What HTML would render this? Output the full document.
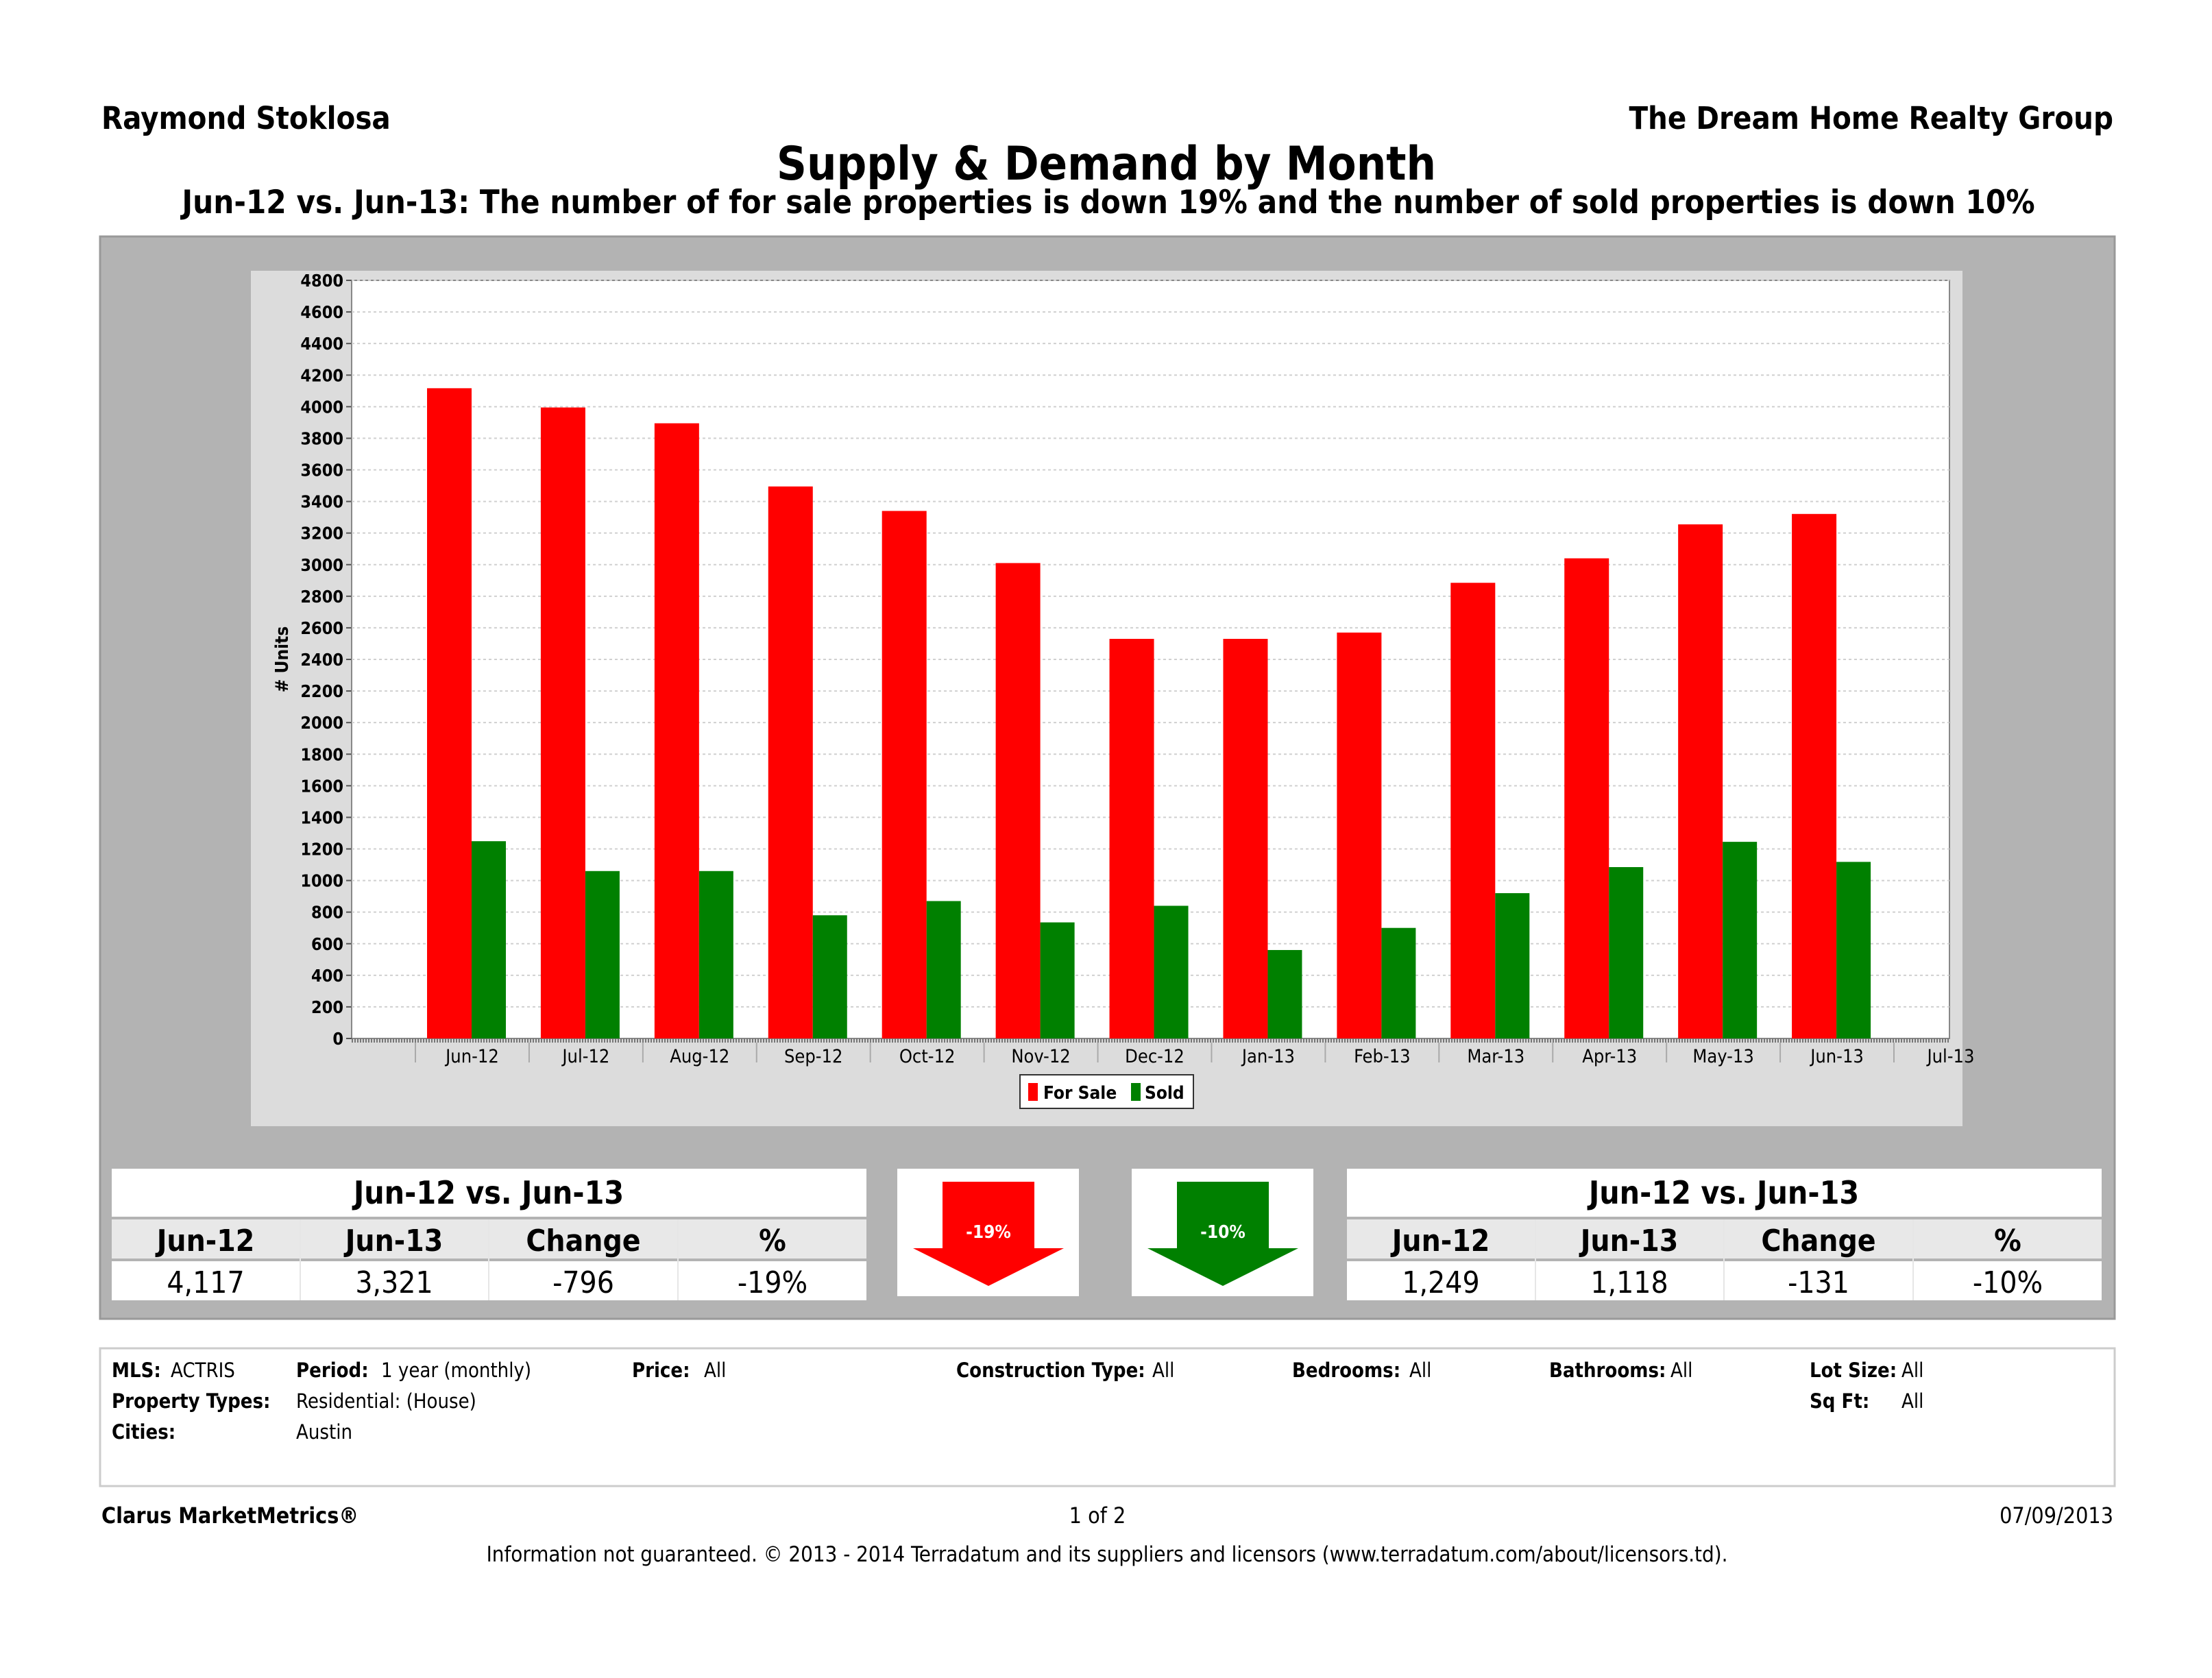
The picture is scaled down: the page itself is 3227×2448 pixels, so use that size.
<!DOCTYPE html>
<html><head><meta charset="utf-8"><style>
html,body{margin:0;padding:0;background:#fff;}
svg{display:block;}
text{font-family:"DejaVu Sans Condensed","Liberation Sans Narrow","Liberation Sans",sans-serif;}
</style></head><body>
<svg id="page" width="3227" height="2448" viewBox="0 0 3227 2448" xmlns="http://www.w3.org/2000/svg">
<text x="148" y="188" font-size="45" font-weight="bold">Raymond Stoklosa</text>
<text x="3083" y="188" font-size="45" font-weight="bold" text-anchor="end">The Dream Home Realty Group</text>
<text x="1614" y="262" font-size="68" font-weight="bold" text-anchor="middle">Supply &amp; Demand by Month</text>
<text x="1617" y="311" font-size="47" font-weight="bold" text-anchor="middle">Jun-12 vs. Jun-13:  The number of for sale properties is down 19% and the number of sold properties is down 10%</text>

<rect x="146" y="345" width="2939" height="1579" fill="#b3b3b3" stroke="#999" stroke-width="3"/>
<rect x="366" y="395" width="2497" height="1248" fill="#dcdcdc"/>
<rect x="513" y="409" width="2331" height="1106" fill="#fff" stroke="#888" stroke-width="2"/>
<g id="grid"></g>
<g id="yaxis"></g>
<g id="bars"></g>
<g id="xaxis"></g>
<text x="0" y="0" font-size="26" font-weight="bold" transform="translate(420,962) rotate(-90)" text-anchor="middle"># Units</text>

<g>
<rect x="1488" y="1568" width="253" height="49" fill="#fff" stroke="#333" stroke-width="2"/>
<rect x="1500" y="1580" width="14" height="26" fill="#ff0000"/>
<text x="1522" y="1603" font-size="26" font-weight="bold">For Sale</text>
<rect x="1650" y="1580" width="14" height="26" fill="#008000"/>
<text x="1670" y="1603" font-size="26" font-weight="bold">Sold</text>
</g>

<g>
<rect x="163" y="1705" width="1101" height="70" fill="#fff"/>
<text x="713" y="1756" font-size="46" font-weight="bold" text-anchor="middle">Jun-12 vs. Jun-13</text>
<rect x="163" y="1779" width="1101" height="57" fill="#e8e8e8"/>
<rect x="163" y="1840" width="1101" height="57" fill="#fff"/>
<g font-size="44" text-anchor="middle">
<text x="300" y="1825" font-weight="bold">Jun-12</text>
<text x="575" y="1825" font-weight="bold">Jun-13</text>
<text x="851" y="1825" font-weight="bold">Change</text>
<text x="1127" y="1825" font-weight="bold">%</text>
<text x="300" y="1886">4,117</text>
<text x="575" y="1886">3,321</text>
<text x="851" y="1886">-796</text>
<text x="1127" y="1886">-19%</text>
</g>
<g stroke="#e6e6e6" stroke-width="2"><line x1="438" y1="1779" x2="438" y2="1897"/><line x1="713" y1="1779" x2="713" y2="1897"/><line x1="989" y1="1779" x2="989" y2="1897"/></g>
</g>

<rect x="1309" y="1705" width="265" height="186" fill="#fff"/>
<polygon points="1375,1724 1509,1724 1509,1821 1552,1821 1442,1876 1332,1821 1375,1821" fill="#ff0000"/>
<text x="1442" y="1806" font-size="26" font-weight="bold" fill="#fff" text-anchor="middle">-19%</text>
<rect x="1651" y="1705" width="265" height="186" fill="#fff"/>
<polygon points="1717,1724 1851,1724 1851,1821 1894,1821 1784,1876 1674,1821 1717,1821" fill="#008000"/>
<text x="1784" y="1806" font-size="26" font-weight="bold" fill="#fff" text-anchor="middle">-10%</text>

<g>
<rect x="1965" y="1705" width="1101" height="70" fill="#fff"/>
<text x="2515" y="1756" font-size="46" font-weight="bold" text-anchor="middle">Jun-12 vs. Jun-13</text>
<rect x="1965" y="1779" width="1101" height="57" fill="#e8e8e8"/>
<rect x="1965" y="1840" width="1101" height="57" fill="#fff"/>
<g font-size="44" text-anchor="middle">
<text x="2102" y="1825" font-weight="bold">Jun-12</text>
<text x="2377" y="1825" font-weight="bold">Jun-13</text>
<text x="2653" y="1825" font-weight="bold">Change</text>
<text x="2929" y="1825" font-weight="bold">%</text>
<text x="2102" y="1886">1,249</text>
<text x="2377" y="1886">1,118</text>
<text x="2653" y="1886">-131</text>
<text x="2929" y="1886">-10%</text>
</g>
<g stroke="#e6e6e6" stroke-width="2"><line x1="2240" y1="1779" x2="2240" y2="1897"/><line x1="2515" y1="1779" x2="2515" y2="1897"/><line x1="2791" y1="1779" x2="2791" y2="1897"/></g>
</g>

<rect x="146" y="1967" width="2939" height="201" fill="#fff" stroke="#ccc" stroke-width="3"/>
<g font-size="29">
<text x="163" y="2009" font-weight="bold">MLS:</text><text x="249" y="2009">ACTRIS</text>
<text x="432" y="2009" font-weight="bold">Period:</text><text x="556" y="2009">1 year (monthly)</text>
<text x="922" y="2009" font-weight="bold">Price:</text><text x="1027" y="2009">All</text>
<text x="1395" y="2009" font-weight="bold">Construction Type:</text><text x="1681" y="2009">All</text>
<text x="1885" y="2009" font-weight="bold">Bedrooms:</text><text x="2056" y="2009">All</text>
<text x="2260" y="2009" font-weight="bold">Bathrooms:</text><text x="2437" y="2009">All</text>
<text x="2640" y="2009" font-weight="bold">Lot Size:</text><text x="2774" y="2009">All</text>
<text x="163" y="2054" font-weight="bold">Property Types:</text><text x="432" y="2054">Residential: (House)</text>
<text x="2640" y="2054" font-weight="bold">Sq Ft:</text><text x="2774" y="2054">All</text>
<text x="163" y="2099" font-weight="bold">Cities:</text><text x="432" y="2099">Austin</text>
</g>

<text x="148" y="2222" font-size="32" font-weight="bold">Clarus MarketMetrics®</text>
<text x="1601" y="2222" font-size="32" text-anchor="middle">1 of 2</text>
<text x="3083" y="2222" font-size="32" text-anchor="end">07/09/2013</text>
<text x="1615" y="2278" font-size="31" text-anchor="middle">Information not guaranteed.  © 2013 - 2014 Terradatum and its suppliers and licensors (www.terradatum.com/about/licensors.td).</text>
</svg>
<script>
const categories = ["Jun-12","Jul-12","Aug-12","Sep-12","Oct-12","Nov-12","Dec-12","Jan-13","Feb-13","Mar-13","Apr-13","May-13","Jun-13","Jul-13"];
const forSale = [4117,3995,3895,3495,3340,3010,2530,2530,2570,2885,3040,3255,3321,null];
const sold = [1249,1060,1060,780,870,735,840,560,700,920,1085,1245,1118,null];
const yTicks = [0,200,400,600,800,1000,1200,1400,1600,1800,2000,2200,2400,2600,2800,3000,3200,3400,3600,3800,4000,4200,4400,4600,4800];

const NS = "http://www.w3.org/2000/svg";
const plotTop = 409, plotBottom = 1515, yMax = 4800, plotLeft = 513, plotRight = 2844;
const catStart = 606, catWidth = (2763 - 606) / 13;
function yScale(v){ return plotBottom - (v / yMax) * (plotBottom - plotTop); }
function xScale(i){ return catStart + i * catWidth; }
function mk(tag, attrs, parent){ const e = document.createElementNS(NS, tag); for (const k in attrs) e.setAttribute(k, attrs[k]); parent.appendChild(e); return e; }

const grid = document.getElementById('grid'), yaxis = document.getElementById('yaxis');
yTicks.forEach(function(t){
  const y = yScale(t);
  if (t > 0) {
    const g = mk('line', {x1: plotLeft, x2: plotRight, y1: y, y2: y, stroke: '#d0d0d0', 'stroke-width': 2, 'stroke-dasharray': '4,4'}, grid);
    
    
  }
  const tk = mk('line', {x1: plotLeft - 8, x2: plotLeft, y1: y, y2: y, stroke: '#555', 'stroke-width': 2}, yaxis);
  
  
  const lb = mk('text', {x: plotLeft - 12, y: y + 9, 'font-size': 25, 'font-weight': 'bold', 'text-anchor': 'end'}, yaxis);
  lb.textContent = t;
  
  
});

const bars = document.getElementById('bars');
categories.forEach(function(c, i){
  const x0 = xScale(i) + 17;
  if (forSale[i] != null) {
    const r = mk('rect', {x: x0, y: yScale(forSale[i]), width: 65, height: plotBottom - yScale(forSale[i]), fill: '#ff0000'}, bars);
    
    
  }
  if (sold[i] != null) {
    const g = mk('rect', {x: x0 + 65, y: yScale(sold[i]), width: 50, height: plotBottom - yScale(sold[i]), fill: '#008000'}, bars);
    
    
  }
});

const xaxis = document.getElementById('xaxis');
const axl = mk('line', {x1: plotLeft, x2: plotRight, y1: plotBottom + 3, y2: plotBottom + 3, stroke: '#777', 'stroke-width': 6, 'stroke-dasharray': '2,2'}, xaxis);


categories.forEach(function(c, i){
  const x = xScale(i);
  const s = mk('line', {x1: x, x2: x, y1: 1521, y2: 1550, stroke: '#aaa', 'stroke-width': 2}, xaxis);
  
  
  const t = mk('text', {x: x + catWidth / 2, y: 1550, 'font-size': 27, 'text-anchor': 'middle'}, xaxis);
  t.textContent = c;
  
  
});
</script>
</body></html>
